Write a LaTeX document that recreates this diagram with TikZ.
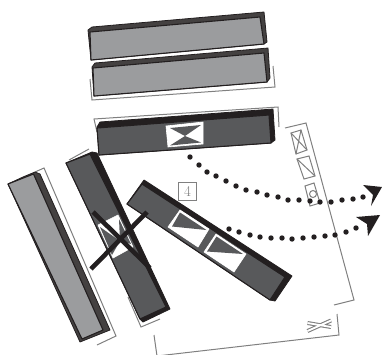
\documentclass[tikz,border=0pt]{standalone}
\definecolor{lightbar}{HTML}{9B9C9E}
\definecolor{darkbar}{HTML}{58595B}
\definecolor{edgeblack}{HTML}{231F20}
\definecolor{bracket}{HTML}{808080}
\tikzset{
  outerlight/.style={fill=edgeblack!85!white,draw=edgeblack,line width=.8pt,line join=round},
  outerdark/.style={fill=edgeblack,draw=edgeblack,line width=.8pt,line join=round},
  frontlight/.style={fill=lightbar,draw=edgeblack,line width=1.100pt,line join=round},
  frontdark/.style={fill=darkbar,draw=edgeblack,line width=1.100pt,line join=round},
  brk/.style={draw=bracket,line width=1pt,line join=miter},
  whitesq/.style={fill=white,draw=white,line width=.6pt},
  graytri/.style={fill=darkbar},
  icon/.style={draw=bracket,line width=1pt,fill=white},
  dotmark/.style={fill=edgeblack},
  tiphead/.style={fill=edgeblack},
  crossbar/.style={draw=edgeblack,line width=4.600pt}
}
\begin{document}
\begin{tikzpicture}[x=1pt,y=-1pt]
\useasboundingbox (0,0) rectangle (382,354);
\clip (0,0) rectangle (382,354);
% brackets
\draw[brk] (90,79) -- (92,100) -- (275,87) -- (273,66);
\draw[brk] (97,132) -- (94,119) -- (278,107) -- (279,127);
\draw[brk] (35,172) -- (44,168) -- (116,336) -- (97,345);
\draw[brk] (69,160) -- (89,149);
\draw[brk] (128,297) -- (141,327) -- (160,319);
\draw[brk] (285,128) -- (306,123) -- (354,300) -- (334,305);
\draw[brk] (337,314) -- (339,335) -- (157,356) -- (154,335);
% top bars
\draw[outerlight] (88,30) -- (92,27) -- (264,12) -- (267,42) -- (264,44) -- (91,60) -- cycle;
\draw[frontlight] (90,32) -- (260,17) -- (264,44) -- (91,60) -- cycle;
\draw[outerlight] (92,67) -- (95,63) -- (268,48) -- (270,78) -- (267,82) -- (94,96) -- cycle;
\draw[frontlight] (93,68) -- (264,53) -- (267,82) -- (94,96) -- cycle;
% dark horizontal bar
\draw[outerdark] (97,127) -- (100,122) -- (273,109) -- (275,140) -- (271,143) -- (99,155) -- cycle;
\draw[frontdark] (97,128) -- (269,115) -- (271,143) -- (99,155) -- cycle;
\fill[whitesq] (166,126) -- (203,122) -- (203,144) -- (168,147) -- cycle;
\fill[graytri] (170,128) -- (201,125) -- (185,136) -- cycle;
\fill[graytri] (170,145.500) -- (201,142.500) -- (185,136) -- cycle;
% left light bar
\draw[outerlight] (8,184) -- (23,177) -- (35,172) -- (40,174) -- (110,330) -- (80,342) -- cycle;
\draw[frontlight] (8,184) -- (33.500,174) -- (103,330) -- (82,339) -- cycle;
% second bar, rotated
\draw[outerdark] (66,163) -- (92,152) -- (97,153) -- (170,309) -- (143,322) -- (140,319) -- cycle;
\draw[frontdark] (66,163) -- (90,154) -- (166,307) -- (140,319) -- cycle;
\fill[whitesq] (98,225) -- (118,215) -- (133,247) -- (113,258) -- cycle;
\fill[graytri] (100,227) -- (120,241) -- (112,255) -- cycle;
\fill[graytri] (119,219) -- (120,241) -- (131,244) -- cycle;
% numbered box, partly under the third bar
\node[draw=bracket,line width=1.100pt,fill=white,minimum width=18.500pt,minimum height=18.500pt,inner sep=0pt,text=black!50,font=\fontsize{15}{15}\selectfont] (num) at (187.500,191.500) {4};
% third bar, rotated
\draw[outerdark] (127,204) -- (144,180) -- (292,276) -- (275,301) -- (270,300) -- cycle;
\draw[frontdark] (127,204) -- (142,184) -- (285,277) -- (270,300) -- cycle;
\fill[whitesq] (168,227) -- (180,210) -- (209,229) -- (198,247) -- cycle;
\fill[graytri] (180,212.500) -- (206.500,230) -- (172,226.500) -- cycle;
\fill[whitesq] (204,252) -- (216,234) -- (246,254) -- (234,272) -- cycle;
\fill[graytri] (216.500,236.500) -- (243,254) -- (207,251.500) -- cycle;
% crossing-out
\draw[crossbar] (93,212) -- (150,268);
\draw[crossbar] (147,212) -- (91,269);
% icons
\draw[icon] (291,133) -- (301,130) -- (307,150) -- (296,154) -- cycle;
\draw[brk] (291,133) -- (307,150) (301,130) -- (296,154);
\draw[icon] (297,159) -- (309,156) -- (315,176) -- (304,179) -- cycle;
\draw[brk] (297,159) -- (315,176);
\draw[icon] (305,186) -- (314,183) -- (320,203) -- (310,206) -- cycle;
\draw[brk] (313,194) circle[radius=3.500];
% lower-right icon
\draw[bracket,line width=4pt] (307.500,323) -- (331,327) (307.500,331) -- (331,320.500);
\draw[white,line width=1.800pt] (307.500,323) -- (331,327) (307.500,331) -- (331,320.500);
% dotted arrows
\foreach \px/\py in {190/157,199/165,207/172,216/176,226/181,236/186,246/190,257/192,267/195,278/197,288/200,299/200,310/201,320/202,331/202,342/200,353/199,363/197}
  \fill[dotmark] (\px,\py) circle[radius=2.700];
\foreach \px/\py in {229/229,239/232,250/235,260/237,271/238,282/238,292/239,303/238,314/237,325/236,335/235,346/232,356/228}
  \fill[dotmark] (\px,\py) circle[radius=2.700];
\fill[tiphead] (363,185) -- (382,187) -- (371,206) -- (373,195) -- cycle;
\fill[tiphead] (356,217) -- (380,215) -- (368,236) -- (367,224) -- cycle;
\end{tikzpicture}
\end{document}
